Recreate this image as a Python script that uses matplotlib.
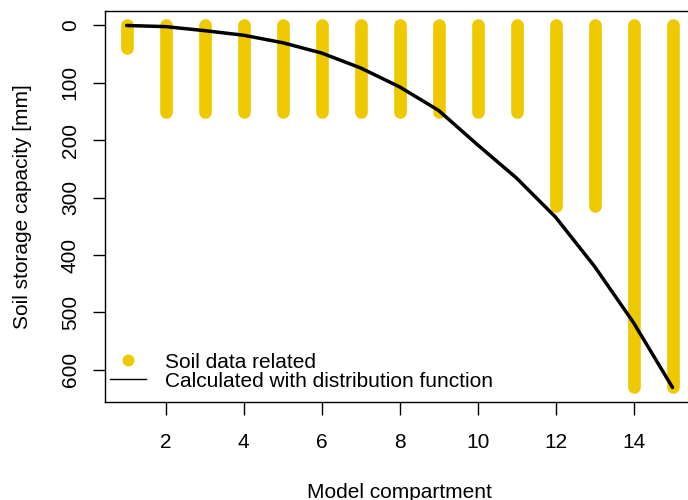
# soil storage capacity per model compartment: soil data vs. distribution function

import numpy as np
import matplotlib.pyplot as plt
from matplotlib.lines import Line2D

compartment = np.arange(1, 16)
soil_capacity = [40, 150, 150, 150, 150, 150, 150, 150, 150, 150, 150,
                 315, 315, 630, 630]
calc_capacity = [0, 2, 9, 17, 30, 48, 74, 107, 148, 208, 266, 334, 420,
                 518, 631]

gold = "#EEC900"

def main():
    plt.rcParams["font.family"] = ["Liberation Sans", "DejaVu Sans"]
    plt.rcParams["font.size"] = 15

    fig = plt.figure(figsize=(6.88, 5.0), dpi=100)
    # plot region runs a little past the right edge of the figure
    ax = fig.add_axes([0.1523, 0.196, 0.857, 0.782])

    vl = ax.vlines(compartment, 0, soil_capacity, color=gold, linewidth=9.1)
    vl.set_capstyle("round")
    ax.plot(compartment, calc_capacity, color="black", linewidth=2.5,
            solid_capstyle="round")

    # R-style 4% padding on both axes, y axis reversed
    allv = np.concatenate([soil_capacity, calc_capacity])
    ymin, ymax = 0.0, allv.max()
    dy = 0.04*(ymax - ymin)
    ax.set_ylim(ymax + dy, ymin - dy)
    dx = 0.04*(compartment[-1] - compartment[0])
    ax.set_xlim(compartment[0] - dx, compartment[-1] + dx)

    ax.set_xticks(np.arange(2, 16, 2))
    ax.set_yticks(np.arange(0, 700, 100))
    ax.tick_params(direction="out", length=9, width=1.0, color="black")
    ax.tick_params(axis="x", pad=13)
    ax.tick_params(axis="y", pad=9)
    for lab in ax.get_yticklabels():
        lab.set_rotation(90)
        lab.set_va("center")
    for s in ax.spines.values():
        s.set_linewidth(1.0)

    ax.set_xlabel("Model compartment")
    ax.set_ylabel("Soil storage capacity [mm]")
    ax.xaxis.set_label_coords(0.5, -0.206)
    ax.yaxis.set_label_coords(-0.1235, 0.5)

    handles = [Line2D([], [], marker="o", linestyle="none", color=gold,
                      markersize=7.5),
               Line2D([], [], color="black", linewidth=1.0)]
    ax.legend(handles, ["Soil data related",
                        "Calculated with distribution function"],
              loc="lower left", bbox_to_anchor=(0.0088, 0.029),
              frameon=False, borderpad=0, borderaxespad=0,
              labelspacing=0.0, handlelength=1.73, handletextpad=0.91)

    fig.savefig("out.png", dpi=100)

if __name__ == "__main__":
    main()
